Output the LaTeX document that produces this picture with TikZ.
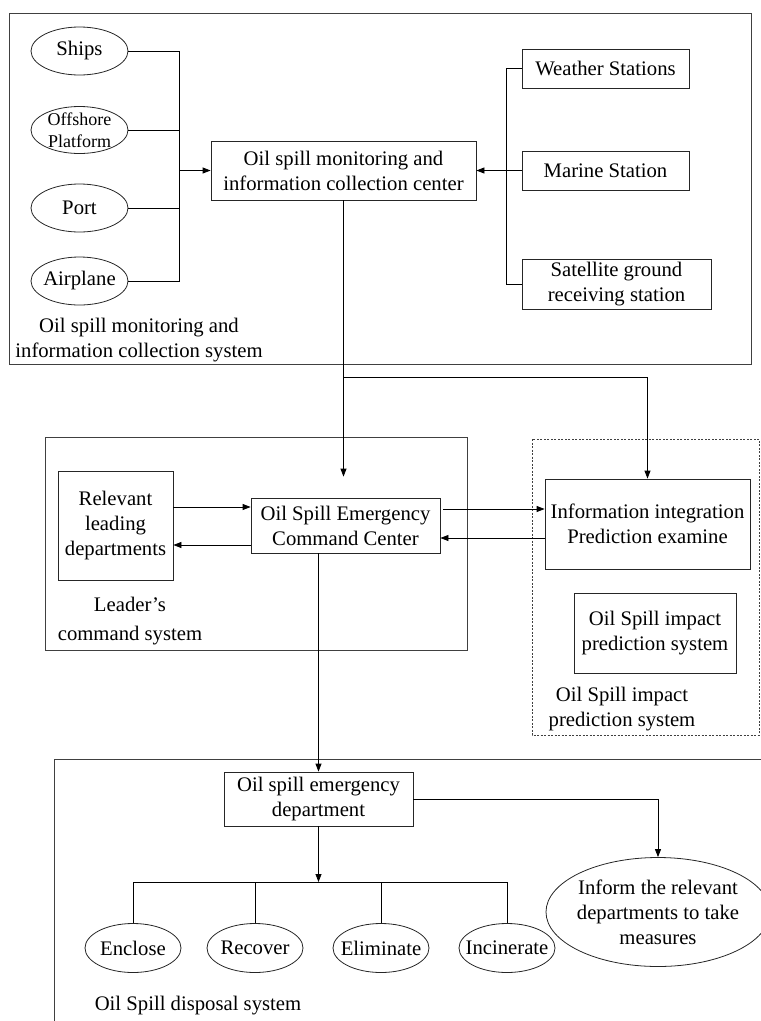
\documentclass[tikz,border=0pt]{standalone}
\usepackage{fontspec}
\setmainfont{Liberation Serif}
\usetikzlibrary{arrows.meta,shapes.geometric,calc}
\begin{document}
\begin{tikzpicture}[x=1pt,y=-1pt,
  every node/.style={font=\fontsize{20.7}{25}\selectfont, inner sep=0pt, align=center},
  boxn/.style={draw=black!85, line width=0.8pt, rectangle},
  frame/.style={draw=black!75, line width=0.8pt},
  elln/.style={draw=black!85, line width=0.8pt, ellipse},
  conn/.style={line width=0.8pt, draw=black},
  arr/.style={conn, -{Triangle[length=8pt,width=6pt]}}]
\useasboundingbox (0,0) rectangle (761,1021);

% ---------- top system ----------
\draw[frame] (9,13) rectangle (751,364);
\node[elln, minimum width=97, minimum height=48] (ships) at (79.5,51) {};
\node (shipsT) at (ships) {Ships};
\node[elln, minimum width=97, minimum height=47] (off) at (79.5,130) {};
\node[font=\fontsize{18}{22}\selectfont] (offT) at (off) {Offshore\\Platform};
\node[elln, minimum width=97, minimum height=48] (port) at (79.5,208) {};
\node (portT) at (port) {Port};
\node[elln, minimum width=97, minimum height=48] (air) at (79.5,281) {};
\node (airT) at (air) {Airplane};

\node[boxn, minimum width=265, minimum height=59] (mc) at (343.5,170.5) {Oil spill monitoring and\\information collection center};
\node[boxn, minimum width=167, minimum height=39] (weather) at (605.5,68.5) {Weather Stations};
\node[boxn, minimum width=167, minimum height=39] (marine) at (605.5,170.5) {Marine Station};
\node[boxn, minimum width=189, minimum height=50] (sat) at (616.5,284) {Satellite ground\\receiving station};

\coordinate (busL) at (179,170.5);
\draw[conn] (ships.east) -- (ships.east -| busL) -- (air.east -| busL) -- (air.east);
\draw[conn] (off.east) -- (off.east -| busL);
\draw[conn] (port.east) -- (port.east -| busL);
\draw[arr] (busL) -- (mc.west);
\coordinate (busR) at (506,170.5);
\draw[conn] (weather.west) -- (weather.west -| busR) -- (sat.west -| busR) -- (sat.west);
\draw[arr] (marine.west) -- (mc.east);

\node (l1) at (139,340) {Oil spill monitoring and\\information collection system};

% ---------- leader's command system ----------
\draw[frame] (45,437) rectangle (467,650);
\node[boxn, minimum width=115, minimum height=109] (rld) at (115.5,525.5) {Relevant\\leading\\departments};
\node[boxn, minimum width=189, minimum height=55] (osecc) at (345.5,525.5) {Oil Spill Emergency\\Command Center};
\node (l2) at (130,621) {Leader’s\\[4pt]command system};

% ---------- prediction system ----------
\draw[frame, dash pattern=on 2pt off 1.5pt, line width=0.6pt] (532,439) rectangle (759,735);
\node[boxn, minimum width=205, minimum height=90] (iipe) at (647.5,524) {Information integration\\Prediction examine};
\node[boxn, minimum width=162, minimum height=80] (osp) at (655,633) {Oil Spill impact\\prediction system};
\node (l3) at (622,709) {Oil Spill impact\\prediction system};

% ---------- connectors middle ----------
\path (0,507) coordinate (h1) (0,545) coordinate (h2) (0,509) coordinate (h3) (0,538) coordinate (h4);
\coordinate (jn) at (343.5,377);
\draw[arr, shorten >=21pt] (mc.south) -- (mc.south |- osecc.north);
\draw[arr] (jn) -| (iipe.north);
\draw[arr] (rld.east |- h1) -- (osecc.west |- h1);
\draw[arr] (osecc.west |- h2) -- (rld.east |- h2);
\draw[arr, shorten <=3pt] (osecc.east |- h3) -- (iipe.west |- h3);
\draw[arr] (iipe.west |- h4) -- (osecc.east |- h4);

% ---------- disposal system ----------
\draw[frame] (54,1030) -- (54,759) -- (770,759);
\node[boxn, minimum width=189, minimum height=54] (ed) at (318.5,799) {Oil spill emergency\\department};
\draw[arr] (ed.north |- osecc.south) -- (ed.north);

\node[elln, minimum width=96, minimum height=49] (enc) at (133,948) {};
\node (encT) at (enc) {Enclose};
\node[elln, minimum width=96, minimum height=49] (rec) at (255,948) {};
\node (recT) at (rec) {Recover};
\node[elln, minimum width=96, minimum height=49] (eli) at (381,948) {};
\node (eliT) at (eli) {Eliminate};
\node[elln, minimum width=96, minimum height=49] (inc) at (507,948) {};
\node (incT) at (inc) {Incinerate};

\coordinate (bar) at (318.5,882);
\draw[arr] (ed.south) -- (bar);
\draw[conn] (enc.north) -- (enc.north |- bar) -- (inc.north |- bar) -- (inc.north);
\draw[conn] (rec.north) -- (rec.north |- bar);
\draw[conn] (eli.north) -- (eli.north |- bar);

\node[elln, minimum width=224, minimum height=109] (inf) at (658,912) {};
\node (infT) at (inf) {Inform the relevant\\departments to take\\measures};
\draw[arr] (ed.east) -| (inf.north);

\node (l4) at (198,1006) {Oil Spill disposal system};
\end{tikzpicture}
\end{document}
